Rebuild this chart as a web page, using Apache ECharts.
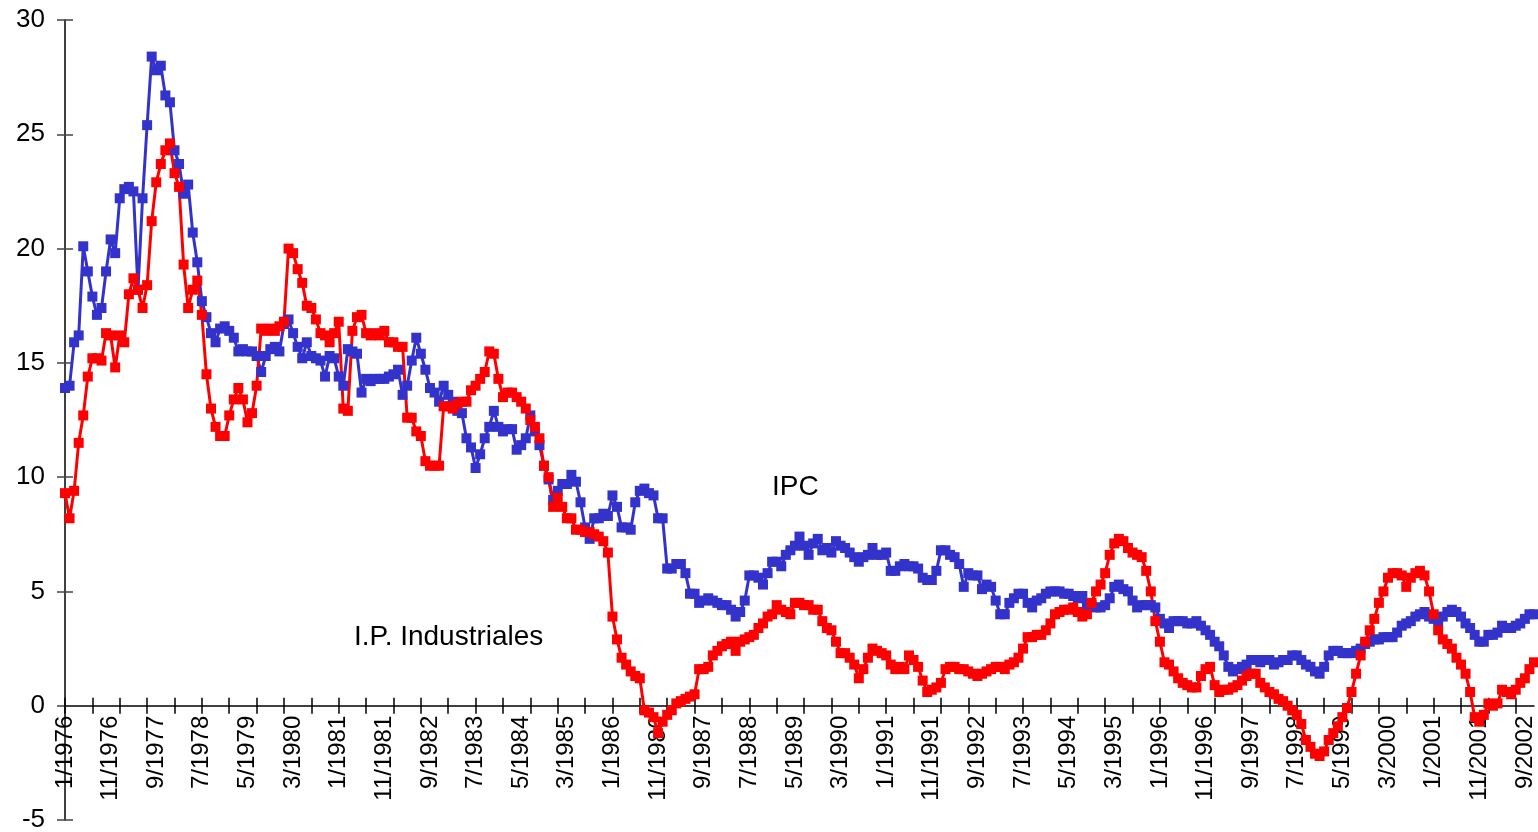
<!DOCTYPE html>
<html>
<head>
<meta charset="utf-8">
<script src="https://cdn.jsdelivr.net/npm/echarts@6/dist/echarts.min.js"></script>
<style>
html, body { margin: 0; padding: 0; background: #fff; }
#chart { width: 1538px; height: 832px; }
</style>
</head>
<body>
<div id="chart"></div>
<script>
// monthly labels 1/1976 .. 11/2002
const months = [];
for (let y = 1976; y <= 2002; y++) {
    for (let m = 1; m <= 12; m++) {
        if (y === 2002 && m > 11) break;
        months.push(m + "/" + y);
    }
}

// IPC (blue)
const ipc = [
    13.9, 14.0, 15.9, 16.2, 20.1, 19.0, 17.9, 17.1, 17.4, 19.0,
    20.4, 19.8, 22.2, 22.6, 22.7, 22.5, 18.2, 22.2, 25.4, 28.4,
    27.8, 28.0, 26.7, 26.4, 24.3, 23.7, 22.4, 22.8, 20.7, 19.4,
    17.7, 17.0, 16.3, 15.9, 16.5, 16.6, 16.4, 16.1, 15.5, 15.6,
    15.5, 15.5, 15.3, 14.6, 15.3, 15.6, 15.7, 15.5, 16.7, 16.9,
    16.3, 15.7, 15.2, 15.9, 15.3, 15.2, 15.1, 14.4, 15.3, 15.2,
    14.4, 14.0, 15.6, 15.5, 15.4, 13.7, 14.3, 14.2, 14.3, 14.3,
    14.3, 14.4, 14.5, 14.7, 13.6, 14.0, 15.1, 16.1, 15.4, 14.7,
    13.9, 13.7, 13.3, 14.0, 13.6, 13.3, 12.9, 12.8, 11.7, 11.3,
    10.4, 11.0, 11.7, 12.2, 12.9, 12.2, 12.0, 12.1, 12.1, 11.2,
    11.4, 11.7, 12.7, 12.0, 11.4, 10.5, 9.9, 9.0, 9.4, 9.7,
    9.7, 10.1, 9.8, 8.9, 7.8, 7.3, 8.2, 8.2, 8.4, 8.3,
    9.2, 8.7, 7.8, 7.8, 7.7, 8.9, 9.4, 9.5, 9.3, 9.2,
    8.2, 8.2, 6.0, 6.0, 6.2, 6.2, 5.8, 4.9, 4.9, 4.5,
    4.6, 4.7, 4.6, 4.5, 4.4, 4.4, 4.2, 3.9, 4.1, 4.6,
    5.7, 5.7, 5.6, 5.3, 5.8, 6.3, 6.3, 6.1, 6.6, 6.8,
    7.0, 7.4, 7.0, 6.6, 7.1, 7.3, 6.8, 6.9, 6.7, 7.2,
    7.0, 6.9, 6.7, 6.5, 6.3, 6.5, 6.6, 6.9, 6.6, 6.6,
    6.7, 5.9, 5.9, 6.1, 6.2, 6.1, 6.1, 6.0, 5.6, 5.5,
    5.5, 5.9, 6.8, 6.8, 6.6, 6.5, 6.2, 5.2, 5.8, 5.7,
    5.7, 5.1, 5.3, 5.2, 4.6, 4.0, 4.0, 4.5, 4.7, 4.9,
    4.9, 4.5, 4.3, 4.6, 4.7, 4.9, 5.0, 5.0, 5.0, 4.9,
    4.9, 4.8, 4.7, 4.8, 4.4, 4.4, 4.3, 4.3, 4.4, 4.7,
    5.2, 5.3, 5.1, 5.0, 4.6, 4.3, 4.4, 4.4, 4.4, 4.3,
    3.8, 3.6, 3.4, 3.7, 3.7, 3.7, 3.6, 3.6, 3.7, 3.5,
    3.3, 3.1, 2.8, 2.6, 2.2, 1.7, 1.5, 1.6, 1.7, 1.8,
    2.0, 2.0, 1.9, 2.0, 2.0, 1.8, 1.9, 2.0, 2.0, 2.2,
    2.2, 2.0, 1.8, 1.7, 1.5, 1.4, 1.7, 2.2, 2.4, 2.4,
    2.3, 2.3, 2.3, 2.4, 2.5, 2.7, 2.8, 2.9, 2.9, 3.0,
    3.0, 3.0, 3.2, 3.5, 3.6, 3.7, 3.9, 4.0, 4.1, 3.9,
    3.8, 3.7, 3.9, 4.1, 4.2, 4.1, 3.9, 3.6, 3.4, 3.1,
    2.8, 2.8, 3.1, 3.1, 3.2, 3.5, 3.4, 3.4, 3.5, 3.6,
    3.8, 4.0, 4.0
];

// I.P. Industriales (red)
const ipi = [
    9.3, 8.2, 9.4, 11.5, 12.7, 14.4, 15.2, 15.2, 15.1, 16.3,
    16.2, 14.8, 16.2, 15.9, 18.0, 18.7, 18.2, 17.4, 18.4, 21.2,
    22.9, 23.7, 24.3, 24.6, 23.3, 22.7, 19.3, 17.4, 18.2, 18.6,
    17.1, 14.5, 13.0, 12.2, 11.8, 11.8, 12.7, 13.4, 13.9, 13.4,
    12.4, 12.8, 14.0, 16.5, 16.4, 16.5, 16.4, 16.6, 16.8, 20.0,
    19.8, 19.1, 18.5, 17.5, 17.4, 16.9, 16.3, 16.2, 15.9, 16.3,
    16.8, 13.0, 12.9, 16.4, 17.0, 17.1, 16.3, 16.2, 16.3, 16.2,
    16.4, 15.9, 15.9, 15.7, 15.7, 12.6, 12.6, 12.0, 11.8, 10.7,
    10.5, 10.5, 10.5, 13.1, 13.1, 13.0, 13.2, 13.3, 13.3, 13.8,
    14.0, 14.3, 14.6, 15.5, 15.4, 14.3, 13.5, 13.7, 13.7, 13.5,
    13.3, 13.0, 12.5, 12.2, 11.7, 10.5, 10.0, 8.7, 9.1, 8.7,
    8.2, 8.2, 7.7, 7.7, 7.6, 7.6, 7.5, 7.4, 7.2, 6.7,
    3.9, 2.9, 2.1, 1.8, 1.5, 1.3, 1.2, -0.2, -0.3, -0.5,
    -1.2, -0.7, -0.4, -0.2, 0.1, 0.2, 0.3, 0.4, 0.5, 1.6,
    1.6, 1.7, 2.2, 2.4, 2.6, 2.7, 2.8, 2.4, 2.8, 2.9,
    3.0, 3.1, 3.4, 3.6, 3.9, 4.0, 4.4, 4.2, 4.1, 4.0,
    4.5, 4.5, 4.4, 4.4, 4.2, 4.2, 3.7, 3.4, 3.3, 2.8,
    2.3, 2.3, 2.1, 1.8, 1.2, 1.6, 2.1, 2.5, 2.4, 2.3,
    2.2, 1.8, 1.6, 1.7, 1.6, 2.2, 2.0, 1.7, 1.1, 0.6,
    0.7, 0.8, 1.0, 1.6, 1.7, 1.7, 1.6, 1.6, 1.5, 1.4,
    1.3, 1.4, 1.5, 1.6, 1.7, 1.7, 1.6, 1.8, 1.9, 2.1,
    2.5, 3.0, 3.0, 3.1, 3.1, 3.3, 3.6, 4.0, 4.1, 4.2,
    4.2, 4.3, 4.1, 3.9, 4.0, 4.5, 5.0, 5.3, 5.8, 6.6,
    7.1, 7.3, 7.2, 6.9, 6.7, 6.6, 6.5, 5.9, 5.0, 3.7,
    2.8, 1.9, 1.8, 1.5, 1.2, 1.0, 0.9, 0.8, 0.8, 1.3,
    1.6, 1.7, 0.9, 0.6, 0.7, 0.7, 0.8, 0.9, 1.1, 1.3,
    1.4, 1.4, 1.0, 0.8, 0.6, 0.5, 0.3, 0.2, 0.0, -0.2,
    -0.4, -0.8, -1.5, -1.8, -2.1, -2.2, -2.0, -1.5, -1.2, -0.9,
    -0.5, -0.1, 0.6, 1.4, 2.2, 2.8, 3.3, 3.8, 4.5, 5.0,
    5.6, 5.8, 5.8, 5.7, 5.2, 5.6, 5.8, 5.9, 5.7, 5.0,
    4.0, 3.3, 2.9, 2.7, 2.5, 2.1, 1.8, 1.4, 0.6, -0.5,
    -0.7, -0.4, 0.1, 0.0, 0.1, 0.7, 0.6, 0.5, 0.7, 1.0,
    1.2, 1.6, 1.9
];

const yTicks = { min: -5, max: 30, step: 5 };

const font = "'Liberation Sans', Arial, sans-serif";
const plotTop = 20, plotH = 800;
// pixel height from top of plot down to the zero line
const zeroH = plotH * yTicks.max / (yTicks.max - yTicks.min);

const chart = echarts.init(document.getElementById("chart"));
chart.setOption({
    animation: false,
    backgroundColor: "#fff",
    grid: [
        // main plot
        { left: 65, right: 4, top: plotTop, height: plotH, containLabel: false, outerBoundsMode: "none" },
        // helper grid whose bottom edge sits on y = 0, carries the category axis
        { left: 65, right: 4, top: plotTop, height: zeroH, containLabel: false, outerBoundsMode: "none" },
    ],
    xAxis: [
        {
            type: "category",
            gridIndex: 0,
            data: months,
            boundaryGap: false,
            show: false,
        },
        {
            type: "category",
            gridIndex: 1,
            data: months,
            boundaryGap: false,
            position: "bottom",
            axisLine: { onZero: false, lineStyle: { color: "#000", width: 1.5 } },
            axisTick: { show: true, interval: 5, inside: false, length: 8, lineStyle: { color: "#000", width: 1.5 } },
            axisLabel: {
                interval: 9,
                rotate: 90,
                margin: 10,
                color: "#000",
                fontSize: 24,
                fontFamily: font,
            },
            splitLine: { show: false },
        },
        {
            type: "category",
            gridIndex: 1,
            data: months,
            boundaryGap: false,
            position: "bottom",
            axisLine: { show: false, onZero: false },
            axisTick: { show: true, interval: 5, inside: true, length: 8, lineStyle: { color: "#000", width: 1.5 } },
            axisLabel: { show: false },
            splitLine: { show: false },
        },
    ],
    yAxis: [
        {
            type: "value",
            gridIndex: 0,
            min: yTicks.min,
            max: yTicks.max,
            interval: yTicks.step,
            position: "left",
            axisLine: { show: true, onZero: false, lineStyle: { color: "#000", width: 1.5 } },
            axisTick: { show: true, inside: false, length: 8, lineStyle: { color: "#444", width: 1.5 } },
            axisLabel: { margin: 20, color: "#000", fontSize: 26, fontFamily: font },
            splitLine: { show: false },
        },
        {
            type: "value",
            gridIndex: 0,
            min: yTicks.min,
            max: yTicks.max,
            interval: yTicks.step,
            position: "left",
            axisLine: { show: false, onZero: false },
            axisTick: { show: true, inside: true, length: 8, lineStyle: { color: "#444", width: 1.5 } },
            axisLabel: { show: false },
            splitLine: { show: false },
        },
        {
            type: "value",
            gridIndex: 1,
            min: 0,
            max: yTicks.max,
            show: false,
        },
    ],
    graphic: [
        {
            type: "text",
            left: 772,
            top: 473,
            style: { text: "IPC", fontSize: 28, fontFamily: font, fill: "#000" },
        },
        {
            type: "text",
            left: 354,
            top: 623,
            style: { text: "I.P. Industriales", fontSize: 28, fontFamily: font, fill: "#000" },
        },
    ],
    series: [
        {
            name: "IPC",
            type: "line",
            xAxisIndex: 0,
            yAxisIndex: 0,
            data: ipc,
            symbol: "rect",
            symbolSize: 10,
            showAllSymbol: true,
            itemStyle: { color: "#3333CC" },
            lineStyle: { color: "#3333CC", width: 3 },
        },
        {
            name: "I.P. Industriales",
            type: "line",
            xAxisIndex: 0,
            yAxisIndex: 0,
            data: ipi,
            symbol: "rect",
            symbolSize: 10,
            showAllSymbol: true,
            itemStyle: { color: "#FF0000" },
            lineStyle: { color: "#FF0000", width: 3 },
        },
    ],
});
</script>
</body>
</html>
